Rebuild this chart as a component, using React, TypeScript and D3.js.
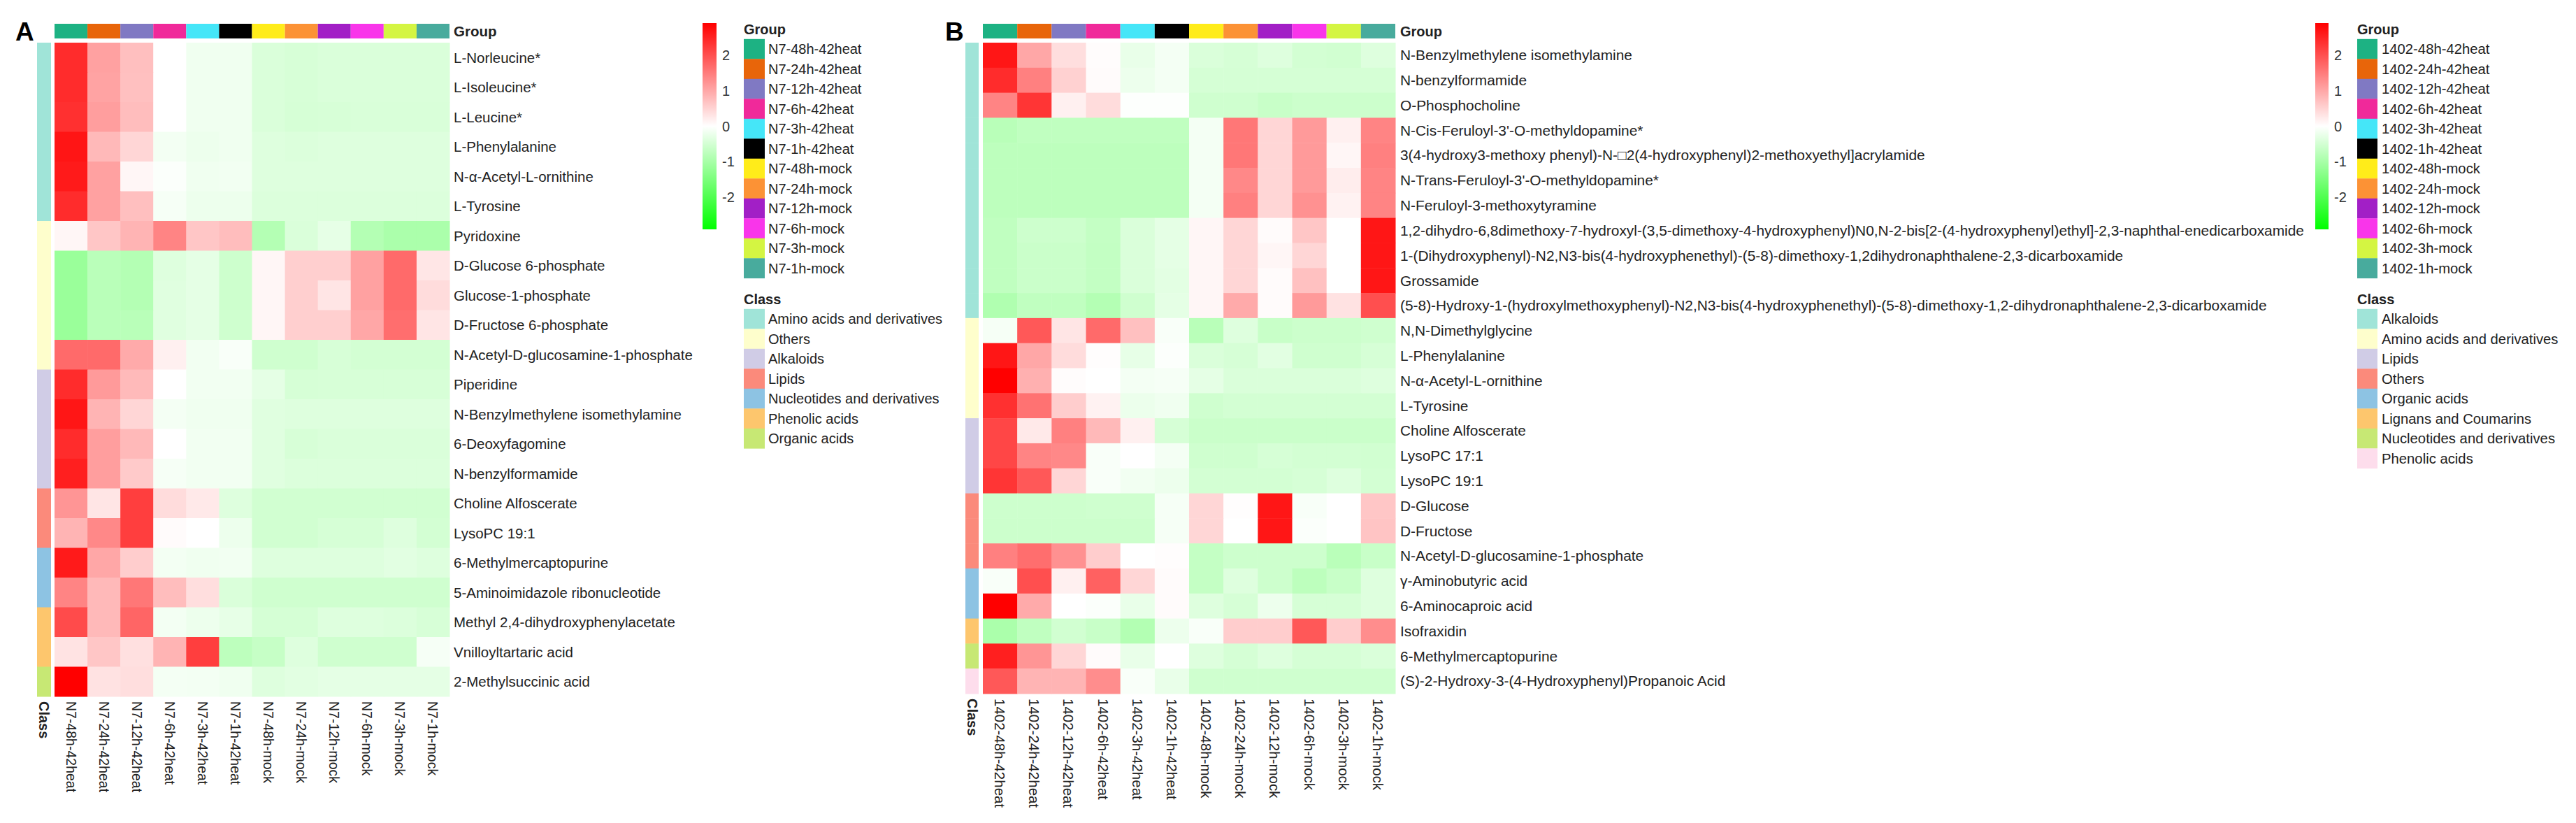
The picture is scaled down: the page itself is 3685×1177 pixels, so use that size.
import React, { useEffect } from 'react';
import * as d3 from 'd3';

// ---------- shared ----------
const groupColors = ['#1DB283', '#E8650A', '#8079C3', '#F0299A', '#45E6F8', '#000000', '#FFEC1A', '#FC9235', '#A21FC6', '#F935EA', '#D4F542', '#48AB9D'];
const colorTicks = [2, 1, 0, -1, -2];
const colorDomain = [-2.9, 0, 2.9];
const colorRange = ['#00FF00', '#FFFFFF', '#FF0000'];

// ---------- panel A data ----------
const columnsA = ['N7-48h-42heat', 'N7-24h-42heat', 'N7-12h-42heat', 'N7-6h-42heat', 'N7-3h-42heat', 'N7-1h-42heat', 'N7-48h-mock', 'N7-24h-mock', 'N7-12h-mock', 'N7-6h-mock', 'N7-3h-mock', 'N7-1h-mock'];
const rowsA = [
  'L-Norleucine*', 'L-Isoleucine*', 'L-Leucine*', 'L-Phenylalanine', 'N-α-Acetyl-L-ornithine', 'L-Tyrosine',
  'Pyridoxine', 'D-Glucose 6-phosphate', 'Glucose-1-phosphate', 'D-Fructose 6-phosphate', 'N-Acetyl-D-glucosamine-1-phosphate',
  'Piperidine', 'N-Benzylmethylene isomethylamine', '6-Deoxyfagomine', 'N-benzylformamide',
  'Choline Alfoscerate', 'LysoPC 19:1', '6-Methylmercaptopurine', '5-Aminoimidazole ribonucleotide',
  'Methyl 2,4-dihydroxyphenylacetate', 'Vnilloyltartaric acid', '2-Methylsuccinic acid'
];
const classesA = ['Amino acids and derivatives', 'Others', 'Alkaloids', 'Lipids', 'Nucleotides and derivatives', 'Phenolic acids', 'Organic acids'];
const classColorsA = ['#A0E4D8', '#FEFECC', '#D0CCE6', '#FB8A7B', '#8DC3E3', '#FDC66D', '#C7E874'];
const rowClassA = [0, 0, 0, 0, 0, 0, 1, 1, 1, 1, 1, 2, 2, 2, 2, 3, 3, 4, 4, 5, 5, 6];
const valuesA = [
  [2.4, 1.07, 0.73, 0.0, -0.17, -0.17, -0.42, -0.45, -0.42, -0.42, -0.42, -0.42],
  [2.4, 1.05, 0.72, 0.0, -0.17, -0.17, -0.42, -0.45, -0.42, -0.42, -0.42, -0.42],
  [2.35, 1.1, 0.75, 0.0, -0.17, -0.17, -0.42, -0.47, -0.45, -0.43, -0.43, -0.43],
  [2.66, 0.8, 0.47, -0.14, -0.2, -0.17, -0.37, -0.4, -0.38, -0.38, -0.38, -0.38],
  [2.6, 1.07, 0.1, -0.05, -0.17, -0.15, -0.38, -0.38, -0.38, -0.38, -0.38, -0.38],
  [2.4, 1.07, 0.73, -0.1, -0.2, -0.2, -0.4, -0.4, -0.4, -0.4, -0.4, -0.4],
  [0.1, 0.65, 0.85, 1.4, 0.65, 0.75, -0.85, -0.42, -0.28, -0.85, -0.95, -0.95],
  [-1.15, -0.78, -0.85, -0.37, -0.3, -0.57, 0.1, 0.55, 0.55, 1.07, 1.7, 0.28],
  [-1.15, -0.8, -0.85, -0.35, -0.3, -0.57, 0.1, 0.55, 0.3, 1.07, 1.7, 0.4],
  [-1.15, -0.78, -0.8, -0.35, -0.3, -0.55, 0.1, 0.55, 0.55, 1.0, 1.65, 0.3],
  [1.7, 1.7, 0.97, 0.17, -0.15, -0.07, -0.55, -0.55, -0.45, -0.5, -0.5, -0.5],
  [2.4, 1.15, 0.78, 0.0, -0.15, -0.15, -0.3, -0.47, -0.45, -0.45, -0.45, -0.45],
  [2.65, 0.85, 0.47, -0.12, -0.17, -0.17, -0.35, -0.38, -0.38, -0.38, -0.38, -0.38],
  [2.4, 1.1, 0.8, 0.0, -0.15, -0.15, -0.35, -0.45, -0.42, -0.42, -0.42, -0.42],
  [2.55, 1.1, 0.6, -0.1, -0.15, -0.15, -0.35, -0.4, -0.4, -0.4, -0.4, -0.4],
  [1.2, 0.3, 2.2, 0.4, 0.25, -0.38, -0.52, -0.52, -0.52, -0.52, -0.52, -0.52],
  [0.85, 1.35, 2.2, 0.05, 0.0, -0.2, -0.52, -0.52, -0.47, -0.47, -0.38, -0.5],
  [2.6, 1.0, 0.57, -0.14, -0.17, -0.15, -0.38, -0.38, -0.38, -0.38, -0.33, -0.38],
  [1.4, 0.8, 1.55, 0.75, 0.37, -0.42, -0.55, -0.55, -0.55, -0.55, -0.55, -0.55],
  [2.05, 0.8, 1.75, -0.14, -0.2, -0.27, -0.48, -0.48, -0.38, -0.38, -0.4, -0.45],
  [0.32, 0.65, 0.35, 0.85, 2.2, -0.75, -0.65, -0.38, -0.55, -0.55, -0.55, -0.1],
  [2.9, 0.33, 0.37, -0.12, -0.14, -0.17, -0.38, -0.33, -0.3, -0.3, -0.3, -0.3]
];

// ---------- panel B data ----------
const columnsB = ['1402-48h-42heat', '1402-24h-42heat', '1402-12h-42heat', '1402-6h-42heat', '1402-3h-42heat', '1402-1h-42heat', '1402-48h-mock', '1402-24h-mock', '1402-12h-mock', '1402-6h-mock', '1402-3h-mock', '1402-1h-mock'];
const rowsB = [
  'N-Benzylmethylene isomethylamine', 'N-benzylformamide', 'O-Phosphocholine', 'N-Cis-Feruloyl-3\'-O-methyldopamine*',
  '3(4-hydroxy3-methoxy phenyl)-N-\u25A12(4-hydroxyphenyl)2-methoxyethyl]acrylamide',
  'N-Trans-Feruloyl-3\'-O-methyldopamine*', 'N-Feruloyl-3-methoxytyramine',
  '1,2-dihydro-6,8dimethoxy-7-hydroxyl-(3,5-dimethoxy-4-hydroxyphenyl)N0,N-2-bis[2-(4-hydroxyphenyl)ethyl]-2,3-naphthal-enedicarboxamide',
  '1-(Dihydroxyphenyl)-N2,N3-bis(4-hydroxyphenethyl)-(5-8)-dimethoxy-1,2dihydronaphthalene-2,3-dicarboxamide',
  'Grossamide',
  '(5-8)-Hydroxy-1-(hydroxylmethoxyphenyl)-N2,N3-bis(4-hydroxyphenethyl)-(5-8)-dimethoxy-1,2-dihydronaphthalene-2,3-dicarboxamide',
  'N,N-Dimethylglycine', 'L-Phenylalanine', 'N-α-Acetyl-L-ornithine', 'L-Tyrosine',
  'Choline Alfoscerate', 'LysoPC 17:1', 'LysoPC 19:1', 'D-Glucose', 'D-Fructose', 'N-Acetyl-D-glucosamine-1-phosphate',
  'γ-Aminobutyric acid', '6-Aminocaproic acid', 'Isofraxidin', '6-Methylmercaptopurine',
  '(S)-2-Hydroxy-3-(4-Hydroxyphenyl)Propanoic Acid'
];
const classesB = ['Alkaloids', 'Amino acids and derivatives', 'Lipids', 'Others', 'Organic acids', 'Lignans and Coumarins', 'Nucleotides and derivatives', 'Phenolic acids'];
const classColorsB = ['#A0E4D8', '#FEFECC', '#D0CCE6', '#FB8A7B', '#8DC3E3', '#FDC66D', '#C7E874', '#FDDDEC'];
const rowClassB = [0, 0, 0, 0, 0, 0, 0, 0, 0, 0, 0, 1, 1, 1, 1, 2, 2, 2, 3, 3, 3, 4, 4, 5, 6, 7];
const valuesB = [
  [2.65, 1.0, 0.38, 0.03, -0.25, -0.13, -0.42, -0.47, -0.38, -0.5, -0.52, -0.38],
  [2.4, 1.45, 0.52, 0.05, -0.2, -0.13, -0.48, -0.48, -0.48, -0.48, -0.48, -0.48],
  [1.4, 2.3, 0.17, 0.4, -0.02, -0.02, -0.55, -0.55, -0.62, -0.58, -0.58, -0.58],
  [-0.8, -0.72, -0.72, -0.72, -0.72, -0.72, -0.13, 1.55, 0.47, 1.15, 0.17, 1.4],
  [-0.75, -0.75, -0.75, -0.75, -0.75, -0.75, -0.13, 1.55, 0.47, 1.15, 0.1, 1.45],
  [-0.75, -0.75, -0.75, -0.75, -0.75, -0.75, -0.13, 1.35, 0.47, 1.15, 0.2, 1.4],
  [-0.75, -0.75, -0.75, -0.75, -0.75, -0.75, -0.13, 1.45, 0.47, 1.25, 0.15, 1.4],
  [-0.72, -0.57, -0.57, -0.67, -0.42, -0.3, 0.1, 0.47, 0.05, 0.65, 0.0, 2.65],
  [-0.72, -0.6, -0.6, -0.68, -0.42, -0.3, 0.1, 0.47, 0.1, 0.47, 0.0, 2.65],
  [-0.72, -0.6, -0.6, -0.68, -0.42, -0.32, 0.1, 0.47, 0.05, 0.7, 0.0, 2.65],
  [-0.9, -0.72, -0.72, -0.85, -0.55, -0.3, 0.1, 0.97, 0.05, 1.15, 0.33, 2.0],
  [-0.1, 1.9, 0.3, 1.7, 0.72, -0.07, -0.8, -0.38, -0.62, -0.58, -0.58, -0.55],
  [2.65, 1.0, 0.4, 0.02, -0.27, -0.03, -0.42, -0.47, -0.33, -0.55, -0.55, -0.47],
  [2.9, 0.9, 0.03, 0.0, -0.12, -0.1, -0.3, -0.42, -0.42, -0.42, -0.42, -0.37],
  [2.35, 1.6, 0.57, 0.15, -0.22, -0.17, -0.55, -0.5, -0.5, -0.5, -0.5, -0.5],
  [2.1, 0.25, 1.45, 0.8, 0.17, -0.47, -0.6, -0.6, -0.6, -0.6, -0.6, -0.6],
  [2.1, 1.4, 1.35, -0.07, 0.0, -0.13, -0.55, -0.55, -0.47, -0.5, -0.5, -0.52],
  [2.3, 1.9, 0.47, -0.07, -0.15, -0.2, -0.5, -0.5, -0.5, -0.47, -0.38, -0.5],
  [-0.57, -0.57, -0.57, -0.55, -0.55, -0.1, 0.47, 0.02, 2.65, -0.08, 0.0, 0.65],
  [-0.58, -0.58, -0.58, -0.58, -0.58, -0.1, 0.47, 0.0, 2.65, -0.05, 0.0, 0.67],
  [1.45, 1.65, 1.25, 0.57, 0.0, 0.02, -0.67, -0.57, -0.57, -0.57, -0.78, -0.62],
  [-0.07, 2.0, 0.17, 1.8, 0.47, 0.05, -0.67, -0.38, -0.57, -0.75, -0.62, -0.38],
  [2.9, 0.97, 0.0, -0.05, -0.25, 0.05, -0.38, -0.47, -0.2, -0.47, -0.47, -0.38],
  [-0.95, -0.72, -0.52, -0.62, -0.87, -0.2, -0.07, 0.57, 0.57, 1.9, 0.57, 1.3],
  [2.55, 1.2, 0.47, 0.05, -0.25, 0.0, -0.38, -0.48, -0.38, -0.48, -0.48, -0.42],
  [1.9, 0.85, 0.85, 1.3, -0.07, -0.25, -0.55, -0.55, -0.55, -0.55, -0.55, -0.55]
];

const FONT = "'Liberation Sans', Arial, Helvetica, sans-serif";
const TEXT = '#222222';

type Layout = {
  letter: string; letterX: number;
  classX: number; classW: number;
  heatX0: number; heatX1: number; top: number; bottom: number;
  barY: number; barH: number;
  labelX: number; labelSize: number; labelScaleX: number; colLabelSize: number;
  cbX: number; cbW: number; tickX: number;
  legX: number; legW: number; legTextX: number; legTextSize: number;
};

const layoutA: Layout = {
  letter: 'A', letterX: 22,
  classX: 53, classW: 20,
  heatX0: 78, heatX1: 643, top: 61, bottom: 996,
  barY: 34, barH: 21,
  labelX: 649, labelSize: 20.5, labelScaleX: 1, colLabelSize: 19.5,
  cbX: 1005, cbW: 20, tickX: 1033,
  legX: 1064, legW: 30, legTextX: 1099, legTextSize: 20,
};
const layoutB: Layout = {
  letter: 'B', letterX: 1352,
  classX: 1381, classW: 19,
  heatX0: 1406, heatX1: 1996, top: 61, bottom: 992,
  barY: 34, barH: 21,
  labelX: 2003, labelSize: 20, labelScaleX: 1.045, colLabelSize: 20.5,
  cbX: 3312, cbW: 19, tickX: 3339,
  legX: 3372, legW: 29, legTextX: 3407, legTextSize: 20.3,
};

const color = d3.scaleLinear<string>().domain(colorDomain).range(colorRange).clamp(true);

function Panel(props: {
  id: string; L: Layout; columns: string[]; rows: string[]; values: number[][];
  rowClass: number[]; classes: string[]; classColors: string[];
}) {
  const { id, L, columns, rows, values, rowClass, classes, classColors } = props;
  const x = d3.scaleBand<string>().domain(columns).range([L.heatX0, L.heatX1]);
  const y = d3.scaleBand<string>().domain(rows).range([L.top, L.bottom]);
  const cbY = d3.scaleLinear().domain([colorDomain[0], colorDomain[2]]).range([328, 33]);
  const legStart = 55.8;
  const legH = 28.5;
  const classTitleY = legStart + columns.length * legH + 30;
  const classStart = classTitleY + 14;
  const gradId = 'grad' + id;
  return (
    <g>
      <text x={L.letterX} y={58} fontFamily={FONT} fontWeight="bold" fontSize={37} fill="#000">{L.letter}</text>
      {columns.map((c, i) => (
        <rect key={'g' + c} x={x(c)} y={L.barY} width={x.bandwidth()} height={L.barH} fill={groupColors[i]} />
      ))}
      <text x={L.labelX} y={L.barY + L.barH / 2} dominantBaseline="central" fontFamily={FONT} fontWeight="bold" fontSize={L.labelSize} fill={TEXT}>Group</text>
      {rows.map((r, i) => (
        <rect key={'c' + i} x={L.classX} y={y(r)} width={L.classW} height={y.bandwidth() + 0.5} fill={classColors[rowClass[i]]} />
      ))}
      {rows.map((r, i) => columns.map((c, j) => (
        <rect key={'h' + i + '_' + j} x={x(c)} y={y(r)} width={x.bandwidth() + 0.5} height={y.bandwidth() + 0.5} fill={color(values[i][j])} />
      )))}
      {rows.map((r) => (
        <text key={'rl' + r}
          transform={`translate(${L.labelX},${(y(r) as number) + y.bandwidth() / 2}) scale(${L.labelScaleX},1)`}
          dominantBaseline="central" fontFamily={FONT} fontSize={L.labelSize} fill={TEXT}>{r}</text>
      ))}
      {columns.map((c) => {
        const cx = (x(c) as number) + x.bandwidth() / 2;
        const cy = L.bottom + 7;
        return (
          <text key={'cl' + c} transform={`translate(${cx},${cy}) rotate(90)`} dominantBaseline="central" fontFamily={FONT} fontSize={L.colLabelSize} fill={TEXT}>{c}</text>
        );
      })}
      <text transform={`translate(${L.classX + L.classW / 2},${L.bottom + 7}) rotate(90)`} dominantBaseline="central" fontFamily={FONT} fontWeight="bold" fontSize={20} fill={TEXT}>Class</text>
      <defs>
        <linearGradient id={gradId} x1="0" y1="1" x2="0" y2="0">
          <stop offset="0%" stopColor={colorRange[0]} />
          <stop offset="50%" stopColor={colorRange[1]} />
          <stop offset="100%" stopColor={colorRange[2]} />
        </linearGradient>
      </defs>
      <rect x={L.cbX} y={cbY(colorDomain[2])} width={L.cbW} height={cbY(colorDomain[0]) - cbY(colorDomain[2])} fill={`url(#${gradId})`} />
      {colorTicks.map((t) => (
        <text key={'t' + t} x={L.tickX} y={cbY(t)} dominantBaseline="central" fontFamily={FONT} fontSize={20} fill="#333">{t}</text>
      ))}
      <text x={L.legX} y={legStart - 14} dominantBaseline="central" fontFamily={FONT} fontWeight="bold" fontSize={20} fill={TEXT}>Group</text>
      {columns.map((c, i) => (
        <g key={'lg' + c}>
          <rect x={L.legX} y={legStart + i * legH} width={L.legW} height={legH + 0.3} fill={groupColors[i]} />
          <text x={L.legTextX} y={legStart + i * legH + legH / 2} dominantBaseline="central" fontFamily={FONT} fontSize={L.legTextSize} fill={TEXT}>{c}</text>
        </g>
      ))}
      <text x={L.legX} y={classTitleY} dominantBaseline="central" fontFamily={FONT} fontWeight="bold" fontSize={20} fill={TEXT}>Class</text>
      {classes.map((c, i) => (
        <g key={'lc' + c}>
          <rect x={L.legX} y={classStart + i * legH} width={L.legW} height={legH + 0.3} fill={classColors[i]} />
          <text x={L.legTextX} y={classStart + i * legH + legH / 2} dominantBaseline="central" fontFamily={FONT} fontSize={L.legTextSize} fill={TEXT}>{c}</text>
        </g>
      ))}
    </g>
  );
}

export default function App() {
  useEffect(() => {
    document.body.style.margin = '0';
  }, []);
  return (
    <svg width={3685} height={1177} viewBox="0 0 3685 1177" style={{ position: 'absolute', left: 0, top: 0, background: '#fff' }}>
      <rect x={0} y={0} width={3685} height={1177} fill="#fff" />
      <Panel id="A" L={layoutA} columns={columnsA} rows={rowsA} values={valuesA} rowClass={rowClassA} classes={classesA} classColors={classColorsA} />
      <Panel id="B" L={layoutB} columns={columnsB} rows={rowsB} values={valuesB} rowClass={rowClassB} classes={classesB} classColors={classColorsB} />
    </svg>
  );
}
